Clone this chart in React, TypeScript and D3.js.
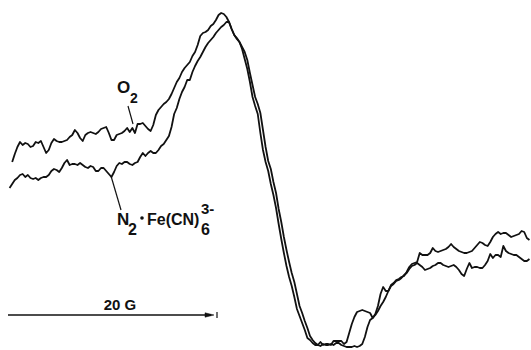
import React from 'react';
import * as d3 from 'd3';

// EPR derivative spectra, sampled every 0.25 G (arbitrary intensity units)
const fieldStep = 0.25;
const o2Start = 0.4;
const n2Start = 0.15;

const o2Signal = [
  19, 27, 34, 39, 36, 38, 37, 34, 35, 39,
  38, 40, 34, 28, 31, 38, 42, 40, 39, 39,
  40, 41, 44, 46, 51, 48, 43, 40, 46, 48,
  49, 48, 47, 49, 52, 53, 54, 48, 41, 41,
  46, 47, 48, 50, 53, 49, 53, 48, 57, 57,
  58, 55, 52, 50, 56, 66, 71, 74, 77, 79,
  82, 87, 93, 99, 103, 109, 113, 116, 119, 125,
  129, 136, 145, 148, 149, 151, 155, 157, 161, 166,
  168, 167, 164, 159, 152, 146, 142, 139, 132, 122,
  112, 99, 84, 75, 67, 48, 31, 19, 10, -3,
  -14, -27, -43, -58, -72, -85, -96, -105, -116, -128,
  -135, -142, -149, -157, -159, -162, -164, -164, -161, -164,
  -163, -163, -164, -160, -160, -160, -160, -163, -161, -152,
  -143, -136, -131, -130, -129, -130, -131, -132, -137, -133,
  -125, -113, -106, -110, -110, -104, -102, -99, -98, -96,
  -95, -91, -86, -83, -82, -81, -72, -74, -74, -74,
  -72, -67, -70, -71, -70, -69, -68, -66, -63, -66,
  -68, -70, -71, -72, -72, -71, -70, -67, -64, -61,
  -62, -64, -65, -61, -56, -53, -51, -53, -52, -52,
  -54, -56, -55, -54, -53, -50, -51, -57, -59,
];

const n2Signal = [
  -7, -3, 1, 3, 6, 7, 4, 6, 3, 2,
  3, 1, 3, 4, 4, 6, 10, 12, 11, 9,
  13, 18, 21, 16, 17, 17, 16, 18, 16, 14,
  13, 15, 14, 10, 10, 13, 13, 10, 7, 4,
  9, 15, 18, 17, 19, 19, 17, 16, 18, 19,
  24, 28, 25, 28, 30, 28, 28, 31, 35, 37,
  41, 45, 54, 67, 73, 82, 89, 94, 101, 101,
  109, 115, 120, 124, 129, 134, 138, 141, 144, 148,
  151, 154, 156, 159, 159, 152, 146, 143, 139, 134,
  129, 121, 108, 96, 84, 77, 68, 51, 34, 20,
  12, -1, -12, -28, -41, -56, -69, -81, -92, -101,
  -113, -125, -132, -140, -147, -155, -159, -162, -164, -165,
  -163, -164, -164, -163, -164, -162, -162, -164, -165, -166,
  -166, -166, -165, -166, -165, -163, -156, -146, -139, -137,
  -134, -130, -125, -121, -116, -110, -105, -103, -100, -99,
  -97, -94, -92, -88, -85, -84, -82, -84, -86, -89,
  -88, -87, -85, -84, -82, -82, -84, -85, -86, -85,
  -84, -86, -89, -93, -95, -88, -82, -87, -86, -86,
  -87, -87, -84, -80, -73, -77, -74, -74, -76, -65,
  -70, -72, -73, -74, -74, -76, -78, -80, -80, -78,
];

const scaleBarField = [0, 20];
const scaleBarLabel = '20 G';

const width = 531;
const height = 350;
const font = '"Liberation Sans", Arial, Helvetica, sans-serif';

export default function App() {
  const x = d3.scaleLinear().domain([0, 50]).range([8, 530.5]);
  const y = d3.scaleLinear().domain([-166, 166]).range([347, 15]);

  const toPoints = (start: number, vals: number[]) =>
    vals.map((v, i) => [start + i * fieldStep, v] as [number, number]);

  const line = d3
    .line<[number, number]>()
    .x((d) => x(d[0]))
    .y((d) => y(d[1]));

  const o2Path = line(toPoints(o2Start, o2Signal)) || '';
  const n2Path = line(toPoints(n2Start, n2Signal)) || '';

  const barX0 = x(scaleBarField[0]);
  const barX1 = x(scaleBarField[1]);
  const barY = 315;

  return (
    <svg
      width={width}
      height={height}
      style={{ position: 'absolute', left: 0, top: 0, background: '#fff' }}
    >
      <rect width={width} height={height} fill="#fff" />
      <g fill="none" stroke="#111" strokeWidth={1.8} strokeLinejoin="round">
        <path d={o2Path} />
        <path d={n2Path} />
      </g>

      {/* labels */}
      <g fontFamily={font} fontWeight="bold" fill="#111">
        <text x={117} y={93} fontSize={17}>O</text>
        <text x={130} y={103} fontSize={14}>2</text>
        <line x1={128} y1={106} x2={133} y2={124} stroke="#111" strokeWidth={1.2} />

        <line x1={111} y1={176} x2={121} y2={210} stroke="#111" strokeWidth={1.2} />
        <text x={117} y={225} fontSize={17}>N</text>
        <text x={128} y={235} fontSize={16}>2</text>
        <circle cx={142} cy={218} r={1.8} />
        <text x={147} y={225} fontSize={16}>Fe(CN)</text>
        <text x={201} y={235} fontSize={16}>6</text>
        <text x={201} y={214} fontSize={15}>3-</text>
      </g>

      {/* field scale bar */}
      <g stroke="#111" fill="#111">
        <line x1={barX0} y1={barY} x2={barX1 - 6} y2={barY} strokeWidth={1.4} />
        <path
          d={`M${barX1 - 12},${barY - 2.2} L${barX1 - 3},${barY} L${barX1 - 12},${barY + 2.2} Z`}
          strokeWidth={0.5}
        />
        <line x1={barX1} y1={barY - 3} x2={barX1} y2={barY + 3} strokeWidth={1.2} />
      </g>
      <text
        x={120}
        y={310}
        textAnchor="middle"
        fontFamily={font}
        fontWeight="bold"
        fontSize={15}
        fill="#111"
      >
        {scaleBarLabel}
      </text>
    </svg>
  );
}
